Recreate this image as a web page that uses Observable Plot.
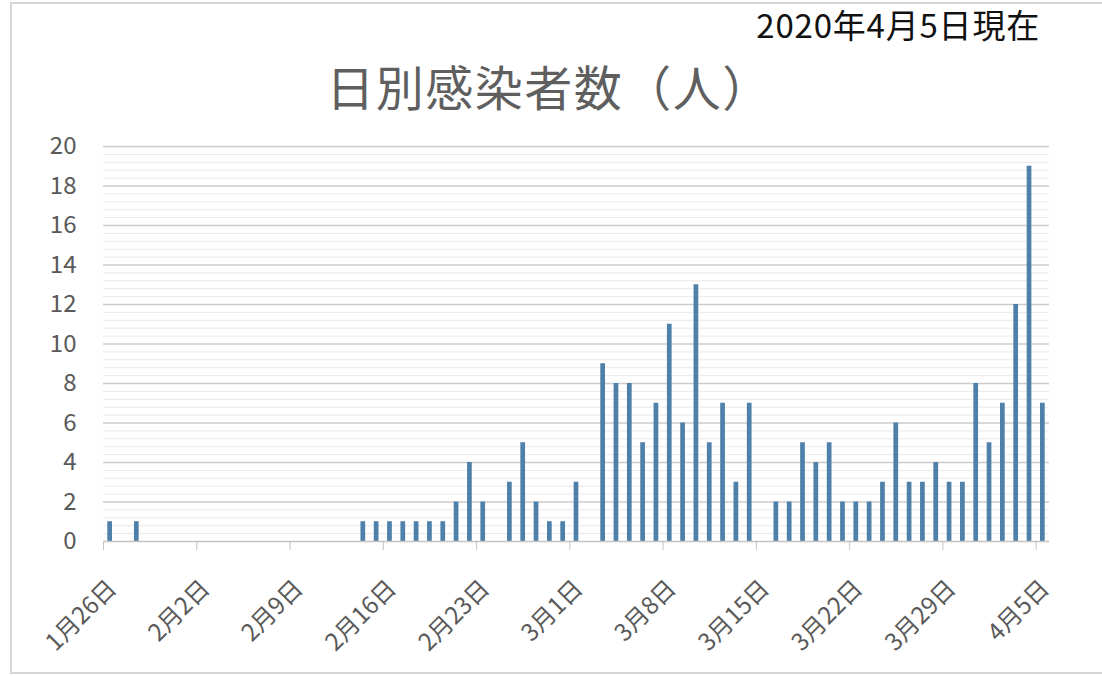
<!DOCTYPE html>
<html>
<head>
<meta charset="utf-8">
<script src="https://cdn.jsdelivr.net/npm/d3@7"></script>
<script src="https://cdn.jsdelivr.net/npm/@observablehq/plot@0.6"></script>
<style>
  body { margin: 0; background: #fff; }
  #wrap { position: relative; width: 1102px; height: 676px; overflow: hidden; background: #fff;
          font-family: "Noto Sans CJK JP", "Noto Sans", sans-serif; }
  #frame { position: absolute; left: 10px; top: 2px; width: 1110px; height: 668px;
           border-top: 2px solid #d6d6d6; border-left: 2px solid #d6d6d6; border-bottom: 2px solid #d6d6d6; }
  #sub { position: absolute; right: 62px; top: 8px; font-size: 33px; line-height: 1; color: #111; letter-spacing: 0.8px; }
  #title { position: absolute; left: 0; width: 1098px; top: 61px; text-align: center;
           font-size: 48px; line-height: 1; color: #5f5f5f; letter-spacing: 1.5px; }
  #chart { position: absolute; left: 0; top: 110px; }
</style>
</head>
<body>
<div id="wrap">
  <div id="frame"></div>
  <div id="sub">2020年4月5日現在</div>
  <div id="title">日別感染者数（人）</div>
  <div id="chart"></div>
</div>
<script>
// Days with reported cases (all other days are zero)
const dates = [
  "2020-01-26","2020-01-28",
  "2020-02-14","2020-02-15","2020-02-16","2020-02-17","2020-02-18","2020-02-19","2020-02-20",
  "2020-02-21","2020-02-22","2020-02-23","2020-02-25","2020-02-26","2020-02-27","2020-02-28","2020-02-29",
  "2020-03-01","2020-03-03","2020-03-04","2020-03-05","2020-03-06","2020-03-07","2020-03-08","2020-03-09",
  "2020-03-10","2020-03-11","2020-03-12","2020-03-13","2020-03-14","2020-03-16","2020-03-17","2020-03-18",
  "2020-03-19","2020-03-20","2020-03-21","2020-03-22","2020-03-23","2020-03-24","2020-03-25","2020-03-26",
  "2020-03-27","2020-03-28","2020-03-29","2020-03-30","2020-03-31","2020-04-01","2020-04-02","2020-04-03",
  "2020-04-04","2020-04-05"
];
const cases = [
  1,1,
  1,1,1,1,1,1,1,
  2,4,2,3,5,2,1,1,
  3,9,8,8,5,7,11,6,
  13,5,7,3,7,2,2,5,
  4,5,2,2,2,3,6,3,
  3,4,3,3,8,5,7,12,
  19,7
];
const tickDates = ["2020-01-26","2020-02-02","2020-02-09","2020-02-16","2020-02-23","2020-03-01",
                   "2020-03-08","2020-03-15","2020-03-22","2020-03-29","2020-04-05"];
const yTicks = [0,2,4,6,8,10,12,14,16,18,20];
const xStart = "2020-01-26";
const xEnd = "2020-04-06";

const data = dates.map((d, i) => ({date: new Date(d + "T00:00:00Z"), count: cases[i]}));
const ticks = tickDates.map(d => new Date(d + "T00:00:00Z"));
const minor = d3.range(0, 20.001, 0.4).filter(v => Math.abs(v / 2 - Math.round(v / 2)) > 1e-6);
const fmt = d => `${d.getUTCMonth() + 1}月${d.getUTCDate()}日`;

const chart = Plot.plot({
  width: 1102,
  height: 560,
  marginTop: 36,
  marginBottom: 129,
  marginLeft: 103,
  marginRight: 53,
  style: {fontFamily: '"Noto Sans CJK JP", "Noto Sans", sans-serif', fontSize: "24px", background: "transparent", overflow: "visible"},
  x: {type: "utc", domain: [new Date(xStart + "T00:00:00Z"), new Date(xEnd + "T00:00:00Z")]},
  y: {domain: [0, 20]},
  marks: [
    Plot.ruleY(minor, {stroke: "#e9e9e9", strokeWidth: 1}),
    Plot.ruleY(yTicks.filter(v => v > 0), {stroke: "#cccccc", strokeWidth: 1.6}),
    Plot.rectY(data, {
      x1: "date",
      x2: d => d3.utcDay.offset(d.date, 1),
      y: "count",
      insetLeft: 4.3, insetRight: 4.3,
      fill: "#4e80a9"
    }),
    Plot.ruleY([0], {stroke: "#c4c4c4", strokeWidth: 1.6}),
    Plot.axisY({ticks: yTicks, tickSize: 0, tickPadding: 27, fontSize: 24, fill: "#595959", label: null}),
    Plot.axisX({ticks: ticks, tickSize: 9, tickFormat: () => "", stroke: "#c4c4c4", label: null}),
    Plot.text(ticks, {
      x: d => d,
      frameAnchor: "bottom",
      text: fmt,
      rotate: -45,
      textAnchor: "end",
      lineAnchor: "middle",
      dx: 9,
      dy: 43,
      fontSize: 24,
      fill: "#595959"
    })
  ]
});
document.getElementById("chart").appendChild(chart);
</script>
</body>
</html>
